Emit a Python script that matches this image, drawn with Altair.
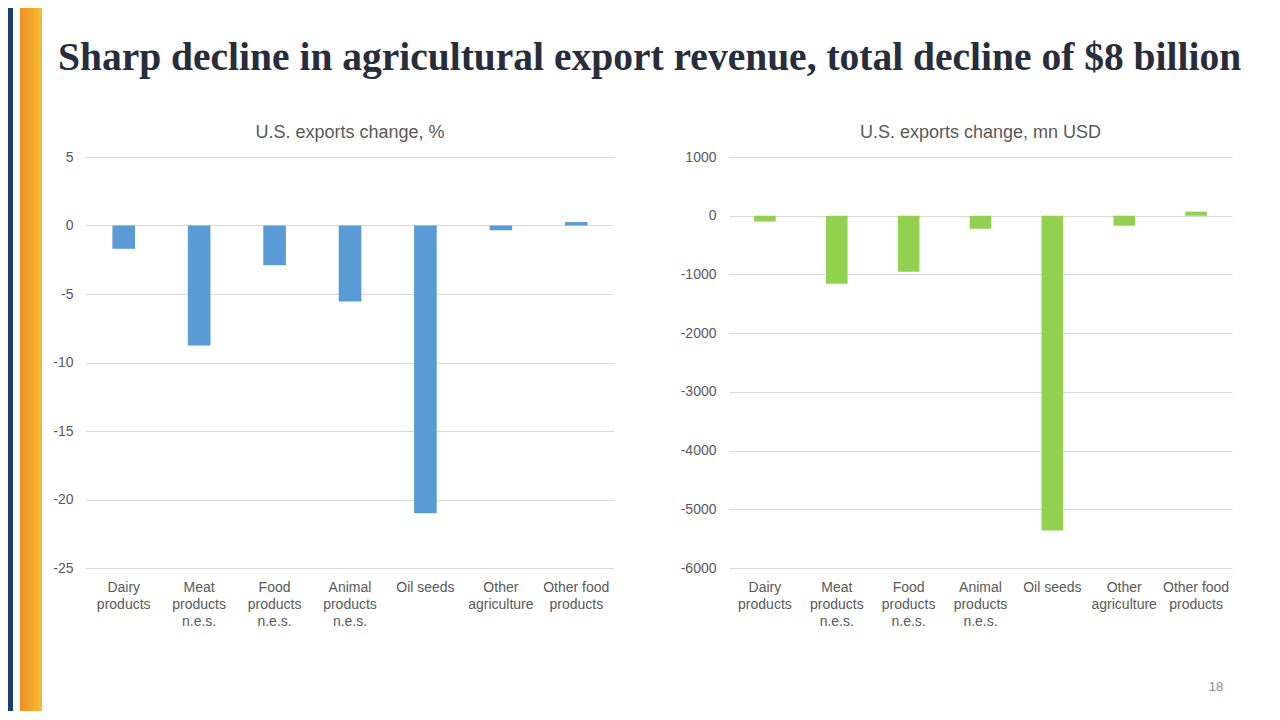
import altair as alt
import pandas as pd

# ---------------- data ----------------
categories = [
    "Dairy\nproducts",
    "Meat\nproducts\nn.e.s.",
    "Food\nproducts\nn.e.s.",
    "Animal\nproducts\nn.e.s.",
    "Oil seeds",
    "Other\nagriculture",
    "Other food\nproducts",
]
pct_change = [-1.7, -8.75, -2.9, -5.55, -21.0, -0.35, 0.25]
usd_change = [-100, -1160, -955, -220, -5360, -170, 70]

pct_ticks = [-25, -20, -15, -10, -5, 0, 5]
usd_ticks = [-6000, -5000, -4000, -3000, -2000, -1000, 0, 1000]

page_title = "Sharp decline in agricultural export revenue, total decline of $8 billion"
left_title = "U.S. exports change, %"
right_title = "U.S. exports change, mn USD"
page_number = ["18"]

df_pct = pd.DataFrame({"category": categories, "value": pct_change})
df_usd = pd.DataFrame({"category": categories, "value": usd_change})

FONT = "Liberation Sans"
GRAY = "#595959"


def bars(df, ticks, color):
    return alt.Chart(df).mark_bar(color=color).encode(
        x=alt.X(
            "category:N",
            sort=categories,
            title=None,
            scale=alt.Scale(paddingInner=0.7, paddingOuter=0.35),
            axis=alt.Axis(
                labelAngle=0,
                labelExpr="split(datum.value, '\\n')",
                labelFontSize=14,
                labelColor=GRAY,
                labelFont=FONT,
                labelPadding=12,
                labelLineHeight=17,
                labelBaseline="top",
                domain=False,
                ticks=False,
                grid=False,
            ),
        ),
        y=alt.Y(
            "value:Q",
            title=None,
            scale=alt.Scale(domain=[ticks[0], ticks[-1]], nice=False),
            axis=alt.Axis(
                values=ticks,
                labelExpr="'' + datum.value",
                domain=False,
                ticks=False,
                labelPadding=13,
                labelFontSize=14,
                labelColor=GRAY,
                labelFont=FONT,
                gridColor="#D9D9D9",
                gridWidth=1,
            ),
        ),
    )


def chart_title(text):
    return alt.TitleParams(
        text, fontSize=18, font=FONT, color=GRAY, fontWeight="normal", offset=8
    )


left = bars(df_pct, pct_ticks, "#5B9BD5").properties(
    title=chart_title(left_title), width=528, height=411
)

num = alt.Chart(pd.DataFrame({"t": page_number})).mark_text(
    font=FONT, fontSize=13, color="#8C8C8C", align="center", baseline="middle"
).encode(text="t:N", x=alt.value(487), y=alt.value(530))

right = alt.layer(bars(df_usd, usd_ticks, "#92D050"), num).properties(
    title=chart_title(right_title), width=503, height=411
)

row = alt.hconcat(left, right, spacing=66)

header = alt.Chart(pd.DataFrame({"t": [page_title]})).mark_text(
    font="Liberation Serif",
    fontSize=39.5,
    fontWeight="bold",
    color="#272D3B",
    align="left",
    baseline="alphabetic",
).encode(text="t:N", x=alt.value(-28), y=alt.value(62)).properties(width=1140, height=100)

body = alt.vconcat(header, row, spacing=16)

dummy = pd.DataFrame({"a": [0]})
deco_blue = alt.Chart(dummy).mark_rect(color="#1B3F6E").encode(
    x=alt.value(0), x2=alt.value(5), y=alt.value(0), y2=alt.value(703)
)
deco_orange = alt.Chart(dummy).mark_rect(
    fill={
        "gradient": "linear",
        "stops": [
            {"offset": 0, "color": "#F08F26"},
            {"offset": 1, "color": "#F4BE30"},
        ],
        "x1": 0,
        "x2": 1,
        "y1": 0,
        "y2": 0,
    }
).encode(x=alt.value(12), x2=alt.value(34), y=alt.value(0), y2=alt.value(703))
deco = alt.layer(deco_blue, deco_orange).properties(width=34, height=703)

chart = (
    alt.hconcat(deco, body, spacing=10)
    .properties(padding=0, background="white")
    .configure_view(stroke=None)
)

chart.save("out.html", embed_options={"renderer": "svg", "actions": False})
